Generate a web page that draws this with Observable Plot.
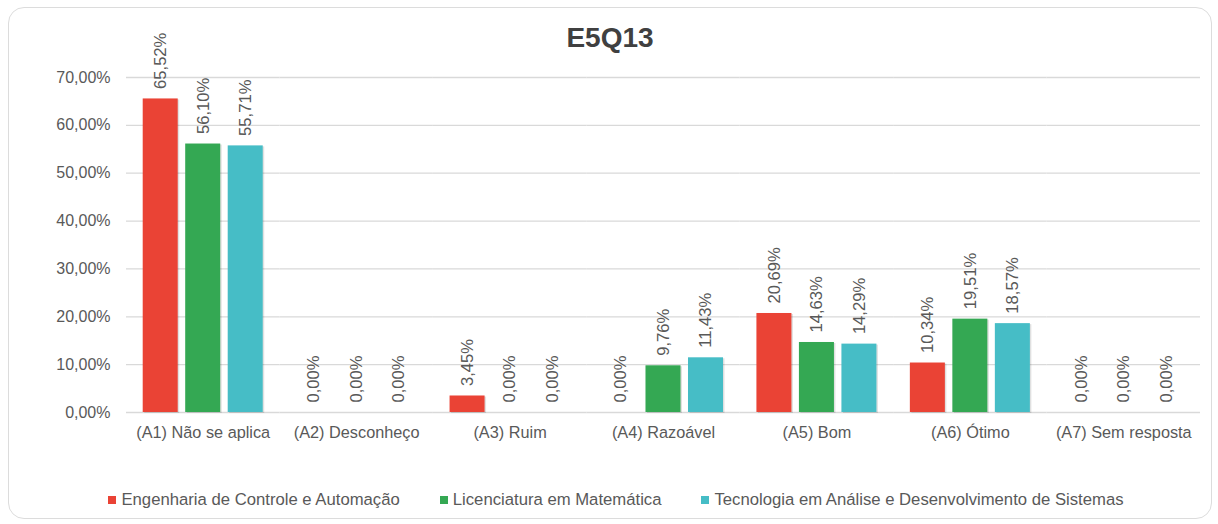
<!DOCTYPE html>
<html>
<head>
<meta charset="utf-8">
<script src="https://cdn.jsdelivr.net/npm/d3@7"></script>
<script src="https://cdn.jsdelivr.net/npm/@observablehq/plot@0.6"></script>
<style>
  html, body { margin: 0; padding: 0; background: #fff; }
  #wrap { position: relative; width: 1218px; height: 524px; font-family: "Liberation Sans", Arial, sans-serif; }
  #frame { position: absolute; left: 8px; top: 7px; width: 1202px; height: 510px; border: 1.5px solid #dcdcdc; border-radius: 16px; }
  #title { position: absolute; left: 8px; width: 1204px; top: 24px; text-align: center; font-size: 28px; line-height: 1; font-weight: bold; color: #404040; }
  #chart { position: absolute; left: 0; top: 0; }
  #legend { position: absolute; left: 7px; width: 1218px; top: 492px; display: flex; justify-content: center; font-size: 16.7px; line-height: 1; color: #595959; }
  .item { display: flex; align-items: center; margin: 0 20px; }
  .sw { width: 8px; height: 8px; margin-right: 5px; }
</style>
</head>
<body>
<div id="wrap">
  <div id="frame"></div>
  <div id="chart"></div>
  <div id="title">E5Q13</div>
  <div id="legend"></div>
</div>
<script>
const categories = ["(A1) Não se aplica", "(A2) Desconheço", "(A3) Ruim", "(A4) Razoável", "(A5) Bom", "(A6) Ótimo", "(A7) Sem resposta"];
const series = ["Engenharia de Controle e Automação", "Licenciatura em Matemática", "Tecnologia em Análise e Desenvolvimento de Sistemas"];
const engenharia = [65.52, 0.00, 3.45, 0.00, 20.69, 10.34, 0.00];
const licenciatura = [56.10, 0.00, 0.00, 9.76, 14.63, 19.51, 0.00];
const tecnologia = [55.71, 0.00, 0.00, 11.43, 14.29, 18.57, 0.00];
const colors = ["#EA4335", "#34A853", "#46BDC6"];
const yTicks = [0, 10, 20, 30, 40, 50, 60, 70];

const seriesValues = [engenharia, licenciatura, tecnologia];
const data = [];
categories.forEach((c, i) => {
  series.forEach((s, j) => data.push({category: c, series: s, value: seriesValues[j][i]}));
});
const fmt = v => v.toFixed(2).replace(".", ",") + "%";

const chart = Plot.plot({
  width: 1218,
  height: 460,
  marginLeft: 126,
  marginRight: 18,
  marginTop: 77,
  marginBottom: 48,
  style: {fontFamily: "Liberation Sans, Arial, sans-serif", background: "transparent"},
  fx: {domain: categories, padding: 0, round: false, label: null},
  x: {domain: series, paddingInner: 0.176, paddingOuter: 0.393, round: false, axis: null},
  y: {domain: [0, 70], label: null, axis: null},
  color: {domain: series, range: colors},
  marks: [
    Plot.gridY({ticks: yTicks, stroke: "#d9d9d9", strokeOpacity: 1, strokeWidth: 1.3}),
    Plot.axisY({ticks: yTicks, tickFormat: fmt, tickSize: 0, tickPadding: 16, fontSize: 16, fill: "#595959", label: null}),
    Plot.axisFx({anchor: "bottom", tickSize: 0, tickPadding: 14, fontSize: 16.3, fill: "#595959", label: null}),
    Plot.barY(data, {fx: "category", x: "series", y: "value", fill: "#000", fillOpacity: 0.12, dx: 1.5, dy: 1}),
    Plot.barY(data, {fx: "category", x: "series", y: "value", fill: "series"}),
    Plot.text(data, {fx: "category", x: "series", y: "value", text: d => fmt(d.value), rotate: -90, textAnchor: "start", lineAnchor: "middle", dy: -10, fontSize: 16.6, fill: "#595959"})
  ]
});
document.getElementById("chart").appendChild(chart);

const legend = document.getElementById("legend");
series.forEach((s, j) => {
  const it = document.createElement("div");
  it.className = "item";
  const sw = document.createElement("span");
  sw.className = "sw";
  sw.style.background = colors[j];
  const tx = document.createElement("span");
  tx.textContent = s;
  it.appendChild(sw);
  it.appendChild(tx);
  legend.appendChild(it);
});
</script>
</body>
</html>
